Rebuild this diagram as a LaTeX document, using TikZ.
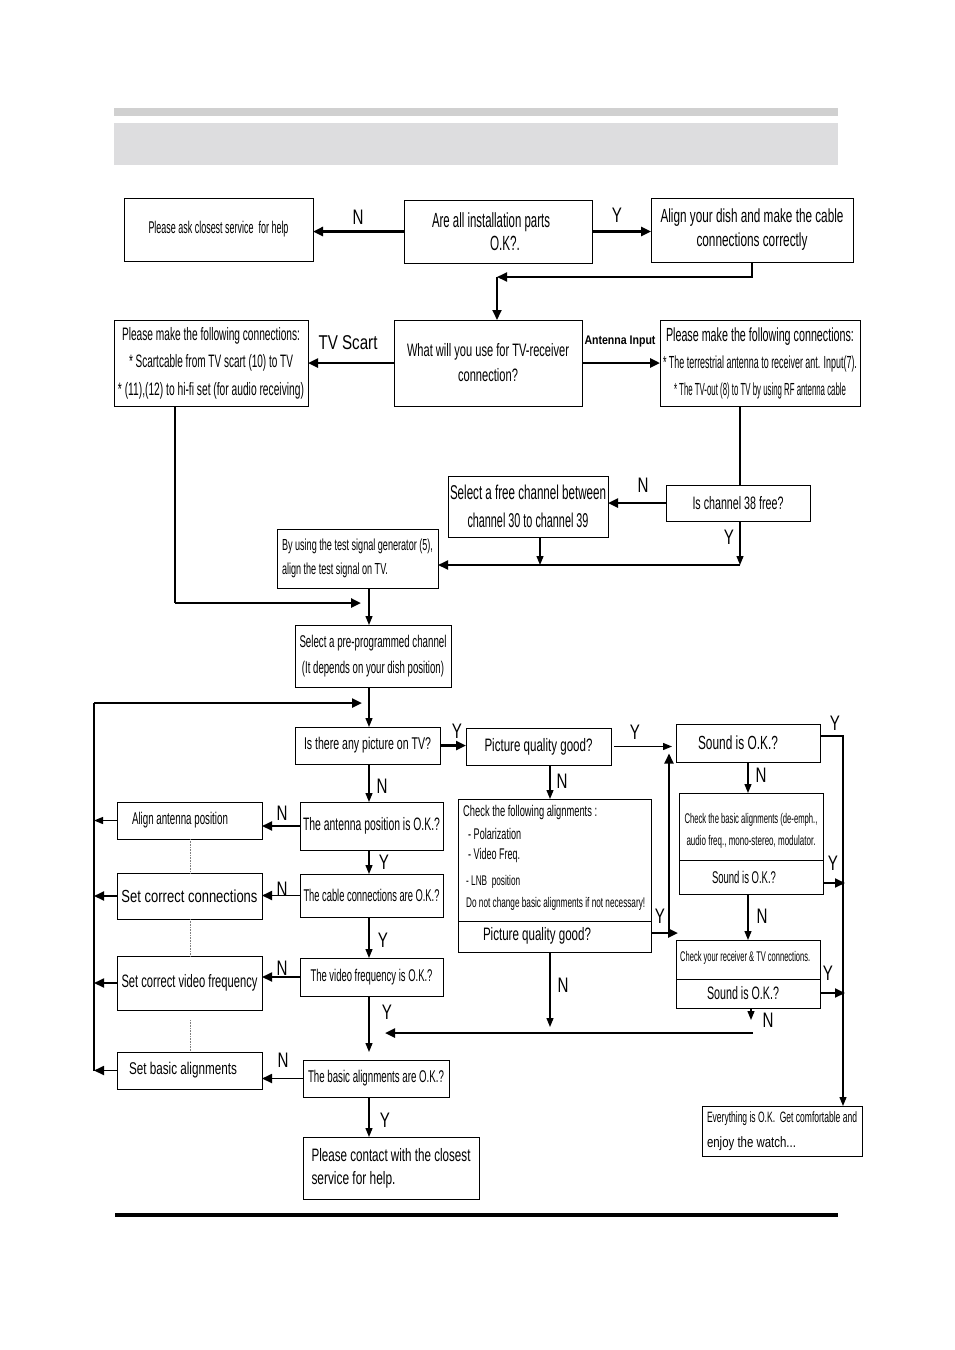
\documentclass[tikz,border=0pt]{standalone}
\usepackage{fontspec}
\setmainfont{Liberation Sans}
\newfontfamily\lf{Liberation Sans}[FakeStretch=0.72]
\usetikzlibrary{arrows.meta}
\newcommand\fz[2]{\fontsize{#1}{#2}\selectfont}
\newcommand\w[2]{\resizebox{#1pt}{\height}{#2}}
\definecolor{barA}{RGB}{208,208,208}
\definecolor{barB}{RGB}{221,221,223}
\newcommand\bx[6][]{\node[box,minimum width={#5-#3},minimum height={#6-#4},#1] (#2) at ({(#3+#5)/2},{(#4+#6)/2})}
\begin{document}
\begin{tikzpicture}[x=1pt,y=-1pt,
  box/.style={draw,line width=0.9pt,inner sep=0pt,outer sep=0pt,align=center},
  tx/.style={inner sep=0pt,anchor=west},
  tc/.style={inner sep=0pt},
  lab/.style={inner sep=0pt,font=\lf\fz{21}{22}},
  thk/.style={line width=2.4pt,-{Triangle[length=10pt,width=9pt]}},
  thka/.style={line width=1.8pt,-{Triangle[length=10pt,width=9pt]}},
  thna/.style={line width=1.2pt,-{Triangle[length=9pt,width=7pt]}},
  thn/.style={line width=1.2pt},
  thl/.style={line width=2pt}]
\useasboundingbox (0,0) rectangle (954,1350);
\fill[barA] (114,108) rectangle (838,116);
\fill[barB] (114,123) rectangle (838,165);

% boxes
\bx[font=\fz{17}{18}]{ask}{124}{198}{313}{261}{\w{140}{Please ask closest service\ \ for help}};
\bx[font=\fz{20.5}{23}]{parts}{404}{200}{592}{263}{\w{118}{Are all installation parts}\hspace*{14pt}\\\hspace*{14pt}\w{30}{O.K?.}};
\bx[font=\fz{19}{24}]{dish}{651}{198}{853}{262}{\w{183}{Align your dish and make the cable}\\\w{111}{connections correctly}};
\bx[font=\fz{18}{27.5}]{scart}{114}{320}{308}{406}{\w{178}{Please make the following connections:}\\\w{164}{* Scartcable from TV scart (10) to TV}\\\w{186}{* (11),(12) to hi-fi set (for audio receiving)}};
\bx[font=\fz{18}{25}]{what}{394}{320}{582}{406}{\w{162}{What will you use for TV-receiver}\\\w{60}{connection?}};
\bx[font=\fz{19}{27}]{ant}{660}{320}{860}{406}{\w{188}{Please make the following connections:}\\{\fz{17.5}{27}\w{194}{* The terrestrial antenna to receiver ant. Input(7).}}\\{\fz{17.5}{27}\w{172}{* The TV-out (8) to TV by using RF antenna cable}}};
\bx[font=\fz{18}{20}]{ch38}{666}{485}{810}{521}{\w{91}{Is channel 38 free?}};
\bx[font=\fz{20}{28}]{free}{448}{476}{608}{537}{\w{156}{Select a free channel between}\\\w{121}{channel 30 to channel 39}};
\bx[font=\fz{16}{24},align=left]{test}{277}{529}{438}{588}{\w{151}{By using the test signal generator (5),}\\\w{106}{align the test signal on TV.}};
\bx[font=\fz{17}{26}]{pre}{295}{625}{451}{687}{\w{147}{Select a pre-programmed channel}\\\w{142}{(It depends on your dish position)}};
\bx[font=\fz{17}{20}]{pic}{295}{727}{440}{764}{\w{127}{Is there any picture on TV?}};
\bx[font=\fz{18}{20}]{pq}{466}{728}{611}{765}{\w{108}{Picture quality good?}};
\bx[font=\fz{19}{21}]{snd}{676}{724}{820}{762}{\w{80}{Sound is O.K.?}\hspace*{20pt}};
\bx[font=\fz{18}{20}]{antpos}{300}{802}{443}{850}{\w{137}{The antenna position is O.K.?}};
\bx[font=\fz{17}{20}]{alant}{117}{802}{262}{839}{\w{96}{Align antenna position}\hspace*{19pt}};
\bx[font=\fz{17}{20}]{cable}{300}{874}{443}{917}{\w{136}{The cable connections are O.K.?}};
\bx[font=\fz{17.5}{20}]{setcon}{117}{873}{262}{919}{\w{136}{Set correct connections}};
\bx[font=\fz{17}{20}]{video}{300}{958}{443}{996}{\w{122}{The video frequency is O.K.?}};
\bx[font=\fz{18}{20}]{setvid}{117}{956}{262}{1010}{\w{136}{Set correct video frequency}};
\bx[font=\fz{17}{20}]{basic}{303}{1060}{449}{1097}{\w{136}{The basic alignments are O.K.?}};
\bx[font=\fz{17}{20}]{setbas}{117}{1052}{262}{1089}{\w{108}{Set basic alignments}\hspace*{13pt}};
\bx[font=\fz{18}{23},align=left]{contact}{303}{1137}{479}{1199}{\w{159}{Please contact with the closest}\\\w{84}{service for help.}};
\bx[font=\fz{15}{25},align=left]{every}{702}{1106}{862}{1156}{\w{150}{Everything is O.K.\ \ Get comfortable and}\\\w{89}{enjoy the watch...}};

% check alignments box
\bx{chk}{458}{799}{651}{952}{};
\draw[line width=0.9pt] (458,921) -- (651,921);
\node[tx,font=\fz{15.5}{17}] (ca1) at (463,812) {\w{134}{Check the following alignments :}};
\node[tx,font=\fz{15.5}{17}] (ca2) at (468,834) {\w{53}{- Polarization}};
\node[tx,font=\fz{15.5}{17}] (ca3) at (468,855) {\w{52}{- Video Freq.}};
\node[tx,font=\fz{14}{16}] (ca4) at (466,882) {\w{54}{- LNB\ \ position}};
\node[tx,font=\fz{14}{16}] (ca5) at (466,904) {\w{179}{Do not change basic alignments if not necessary!}};
\node[tc,font=\fz{18}{20}] (ca6) at (537,936) {\w{108}{Picture quality good?}};

% check basic box
\bx{cb}{679}{793}{823}{894}{};
\draw[line width=0.9pt] (679,860) -- (823,860);
\node[tc,font=\fz{14}{16}] (cb1) at (751,820) {\w{133}{Check the basic alignments (de-emph.,}};
\node[tc,font=\fz{14}{16}] (cb2) at (751,842) {\w{129}{audio freq., mono-stereo, modulator.}};
\node[tc,font=\fz{17}{19}] (cb3) at (744,877) {\w{64}{Sound is O.K.?}};

% receiver box
\bx{rc}{676}{940}{820}{1008}{};
\draw[line width=0.9pt] (676,979) -- (820,979);
\node[tx,font=\fz{14}{16}] (rc1) at (680,958) {\w{130}{Check your receiver \& TV connections.}};
\node[tc,font=\fz{18}{20}] (rc2) at (743,993) {\w{72}{Sound is O.K.?}};

% labels
\node[lab] (l1) at (358,217) {N};
\node[lab] (l2) at (617,215) {Y};
\node[inner sep=0pt,font=\fz{20}{22}] (l3) at (348,343) {\w{59}{TV Scart}};
\node[inner sep=0pt,font=\fz{12.5}{14}\bfseries] (l4) at (620,341) {\w{71}{Antenna Input}};
\node[lab] (l5) at (643,485) {N};
\node[lab] (l6) at (729,537) {Y};
\node[lab] (l7) at (457,731) {Y};
\node[lab] (l8) at (635,732) {Y};
\node[lab] (l9) at (835,723) {Y};
\node[lab] (l10) at (562,781) {N};
\node[lab] (l11) at (382,786) {N};
\node[lab] (l12) at (282,813) {N};
\node[lab] (l13) at (384,862) {Y};
\node[lab] (l14) at (282,889) {N};
\node[lab] (l15) at (383,940) {Y};
\node[lab] (l16) at (282,968) {N};
\node[lab] (l17) at (387,1012) {Y};
\node[lab] (l18) at (283,1060) {N};
\node[lab] (l19) at (385,1120) {Y};
\node[lab] (l20) at (761,775) {N};
\node[lab] (l21) at (833,863) {Y};
\node[lab] (l22) at (762,916) {N};
\node[lab] (l23) at (660,916) {Y};
\node[lab] (l24) at (828,973) {Y};
\node[lab] (l25) at (768,1020) {N};
\node[lab] (l26) at (563,985) {N};

% helper coordinates
\coordinate (vx) at (369,0);
\coordinate (vpq) at (550,0);
\coordinate (vs) at (748,0);
\coordinate (vch) at (740,0);
\coordinate (vf) at (540,0);
\coordinate (vd) at (190,0);
\coordinate (c1) at (497,277);
\coordinate (j1) at (740,565);
\coordinate (j2a) at (175,603);
\coordinate (j2) at (361,603);
\coordinate (lp) at (94,703);
\coordinate (lpe) at (362,703);
\coordinate (yq) at (669,933);
\coordinate (yqe) at (678,933);
\coordinate (ycb) at (845,883);
\coordinate (yrc) at (845,993);
\coordinate (ys) at (843,736);
\coordinate (vrn) at (751,1020);
\coordinate (j3) at (753,1033);
\coordinate (j3e) at (385,1033);
\coordinate (cn) at (550,1027);
\coordinate (vb) at (369,1052);

% connectors
\draw[thk] (parts.west) -- (ask.east |- parts.west);
\draw[thk] (parts.east) -- (dish.west |- parts.east);
\draw[thka] (dish.south) |- (c1);
\draw[thka] (c1) -- (c1 |- what.north);
\draw[thk] (what.west) -- (scart.east |- what.west);
\draw[thk] (what.east) -- (ant.west |- what.east);
\draw[thn] (ant.south -| vch) -- (ch38.north -| vch);
\draw[thk] (ch38.west) -- (free.east |- ch38.west);
\draw[thna] (ch38.south -| vch) -- (j1);
\draw[thka] (j1) -- (test.east |- j1);
\draw[thna] (free.south -| vf) -- (vf |- j1);
\draw[thn] (scart.south -| j2a) -- (j2a);
\draw[thk] (j2a) -- (j2);
\draw[thna] (test.south -| vx) -- (pre.north -| vx);
\draw[thk] (lp) -- (lpe);
\draw[thna] (pre.south -| vx) -- (pic.north -| vx);
\draw[thk] (pic.east) -- (pq.west |- pic.east);
\draw[thna,shorten >=4pt,shorten <=3pt] (pq.east) -- (snd.west |- pq.east);
\draw[thna] (pq.south -| vpq) -- (chk.north -| vpq);
\draw[thk] (chk.east |- yq) -- (yqe);
\draw[thka,shorten >=7pt] (yq) -- (yq |- pq.east);
\draw[thna] (snd.south -| vs) -- (cb.north -| vs);
\draw[thka] (cb.east |- ycb) -- (ycb);
\draw[thna] (cb.south -| vs) -- (rc.north -| vs);
\draw[thka] (rc.east |- yrc) -- (yrc);
\draw[thna] (snd.east |- ys) -- (ys) -- (every.north -| ys);
\draw[thna] (rc.south -| vrn) -- (vrn);
\draw[thk] (j3) -- (j3e);
\draw[thna] (chk.south -| cn) -- (cn);
\draw[thna] (pic.south -| vx) -- (antpos.north -| vx);
\draw[thka] (antpos.west) -- (alant.east |- antpos.west);
\draw[thna] (antpos.south -| vx) -- (cable.north -| vx);
\draw[thka] (cable.west) -- (setcon.east |- cable.west);
\draw[thna] (cable.south -| vx) -- (video.north -| vx);
\draw[thka] (video.west) -- (setvid.east |- video.west);
\draw[thna] (video.south -| vx) -- (vb);
\draw[thka] (basic.west) -- (setbas.east |- basic.west);
\draw[thna] (basic.south -| vx) -- (contact.north -| vx);
\draw[thna] (alant.west) -- (alant.west -| lp);
\draw[thka] (setcon.west) -- (setcon.west -| lp);
\draw[thka] (setvid.west) -- (setvid.west -| lp);
\draw[thka] (setbas.west) -- (setbas.west -| lp);
\draw[thl] (lp) -- (setbas.west -| lp);
\draw[densely dotted,gray,line width=0.6pt] (alant.south -| vd) -- (setcon.north -| vd);
\draw[densely dotted,gray,line width=0.6pt] (setcon.south -| vd) -- (setvid.north -| vd);
\draw[densely dotted,gray,line width=0.6pt] ([yshift=-10pt]setvid.south -| vd) -- (setbas.north -| vd);

\draw[line width=4pt] (115,1215) -- (838,1215);
\end{tikzpicture}
\end{document}
